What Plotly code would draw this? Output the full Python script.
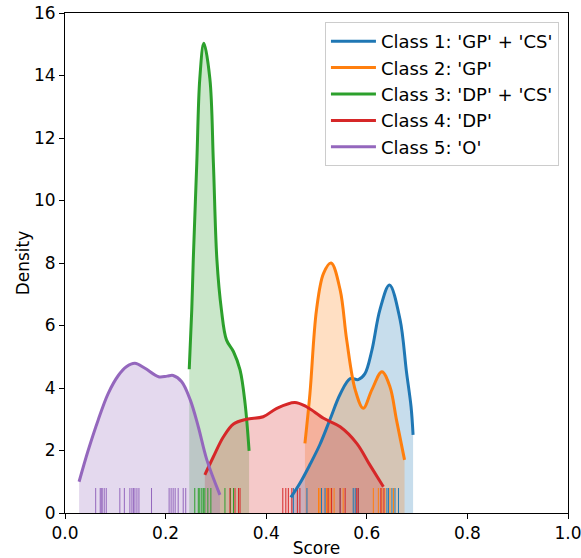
import plotly.graph_objects as go

# ---- data ----
class_names = ["Class 1: 'GP' + 'CS'", "Class 2: 'GP'", "Class 3: 'DP' + 'CS'",
               "Class 4: 'DP'", "Class 5: 'O'"]
colors = ["#1f77b4", "#ff7f0e", "#2ca02c", "#d62728", "#9467bd"]

# density curves (score, density)
c1_x = [0.449, 0.467, 0.487, 0.507, 0.527, 0.547, 0.567, 0.583, 0.596, 0.610, 0.626, 0.645, 0.666, 0.679, 0.688, 0.692]
c1_y = [0.50, 0.95, 1.55, 2.20, 3.00, 3.80, 4.30, 4.27, 4.45, 5.20, 6.50, 7.30, 6.20, 4.50, 3.40, 2.50]

c2_x = [0.477, 0.487, 0.500, 0.514, 0.529, 0.547, 0.560, 0.577, 0.593, 0.610, 0.630, 0.646, 0.659, 0.675]
c2_y = [2.23, 3.83, 6.50, 7.67, 8.00, 7.14, 5.54, 3.94, 3.35, 3.94, 4.52, 4.04, 2.98, 1.70]

c3_x = [0.247, 0.252, 0.255, 0.262, 0.268, 0.276, 0.288, 0.295, 0.302, 0.311, 0.321, 0.335, 0.348, 0.358, 0.366]
c3_y = [4.60, 6.50, 8.10, 11.20, 13.90, 15.03, 13.90, 11.20, 8.10, 6.50, 5.54, 5.16, 4.58, 3.51, 1.99]

c4_x = [0.278, 0.295, 0.315, 0.335, 0.361, 0.394, 0.421, 0.457, 0.480, 0.514, 0.547, 0.580, 0.606, 0.633]
c4_y = [1.22, 1.80, 2.44, 2.85, 3.00, 3.08, 3.35, 3.54, 3.40, 3.03, 2.76, 2.23, 1.54, 0.84]

c5_x = [0.028, 0.046, 0.066, 0.086, 0.106, 0.122, 0.139, 0.159, 0.186, 0.203, 0.215, 0.232, 0.249, 0.265, 0.282, 0.308]
c5_y = [1.00, 2.00, 2.98, 3.83, 4.40, 4.68, 4.79, 4.63, 4.36, 4.38, 4.40, 4.20, 3.62, 2.76, 1.70, 0.58]

# rug (individual scores)
r1 = [0.454, 0.481, 0.510, 0.517, 0.547, 0.573, 0.577, 0.583, 0.640, 0.643, 0.650, 0.656, 0.663]
r2 = [0.504, 0.507, 0.520, 0.523, 0.527, 0.530, 0.535, 0.553, 0.613, 0.623, 0.630, 0.636, 0.646, 0.653]
r3 = [0.258, 0.265, 0.268, 0.272, 0.275, 0.278, 0.284, 0.290, 0.318, 0.329, 0.335]
r4 = [0.328, 0.338, 0.345, 0.348, 0.433, 0.439, 0.444, 0.451, 0.462, 0.467, 0.523, 0.530,
      0.547, 0.557, 0.580, 0.583, 0.628, 0.634]
r5 = [0.061, 0.070, 0.072, 0.074, 0.078, 0.082, 0.109, 0.118, 0.129, 0.133, 0.136, 0.139,
      0.143, 0.147, 0.172, 0.207, 0.211, 0.215, 0.219, 0.225, 0.235, 0.240]

x_ticks = [0.0, 0.2, 0.4, 0.6, 0.8, 1.0]
y_ticks = [0, 2, 4, 6, 8, 10, 12, 14, 16]
rug_height = 0.8

curves = [(c1_x, c1_y), (c2_x, c2_y), (c3_x, c3_y), (c4_x, c4_y), (c5_x, c5_y)]
rugs = [r1, r2, r3, r4, r5]


def rgba(hexc, a):
    h = hexc.lstrip("#")
    return "rgba(%d,%d,%d,%s)" % (int(h[0:2], 16), int(h[2:4], 16), int(h[4:6], 16), a)


fig = go.Figure()

# fills
for (cx, cy), col in zip(curves, colors):
    fig.add_trace(go.Scatter(x=cx, y=cy, mode="lines", line=dict(width=0, shape="spline", smoothing=1.0),
                             fill="tozeroy", fillcolor=rgba(col, 0.25), showlegend=False, hoverinfo="skip"))

# rugs
for rv, col in zip(rugs, colors):
    xs, ys = [], []
    for v in rv:
        xs += [v, v, None]
        ys += [0, rug_height, None]
    fig.add_trace(go.Scatter(x=xs, y=ys, mode="lines", line=dict(color=col, width=1),
                             showlegend=False, hoverinfo="skip"))

# lines
for (cx, cy), col, name in zip(curves, colors, class_names):
    fig.add_trace(go.Scatter(x=cx, y=cy, mode="lines", name=name,
                             line=dict(color=col, width=3, shape="spline", smoothing=1.0)))

axis_common = dict(showline=True, linecolor="black", linewidth=1, mirror=True,
                   ticks="outside", ticklen=5, tickcolor="black", showgrid=False, zeroline=False,
                   tickfont=dict(size=17, color="black"), ticklabeloverflow="allow")

fig.update_layout(
    width=581, height=558,
    margin=dict(l=65, r=13, t=13, b=45, autoexpand=False),
    paper_bgcolor="white", plot_bgcolor="white",
    font=dict(family="DejaVu Sans", size=17, color="black"),
    xaxis=dict(range=[0, 1], tickvals=x_ticks, ticktext=["%.1f" % t for t in x_ticks],
               title=dict(text="Score", font=dict(size=17), standoff=4), **axis_common),
    yaxis=dict(range=[0, 16], tickvals=y_ticks,
               title=dict(text="Density", font=dict(size=17), standoff=0), **axis_common),
    legend=dict(x=0.982, y=0.982, xanchor="right", yanchor="top",
                bgcolor="rgba(255,255,255,0.8)", bordercolor="#cccccc", borderwidth=1,
                font=dict(size=18), itemwidth=45),
)

fig.write_html("out.html")
